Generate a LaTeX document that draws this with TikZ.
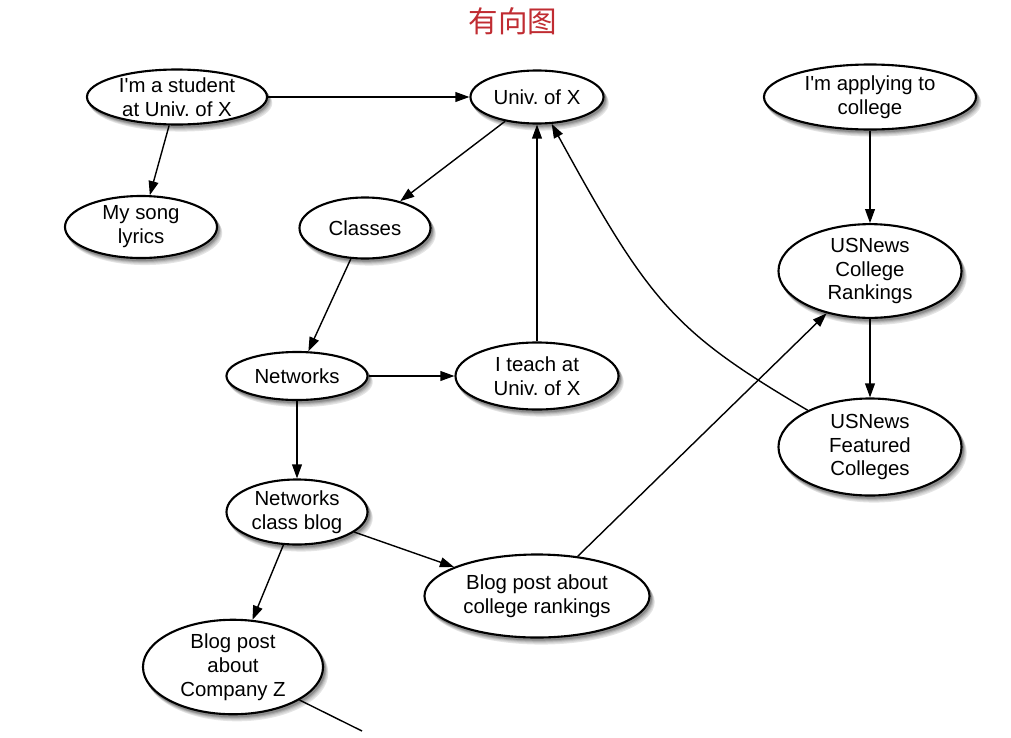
\documentclass[tikz,border=0pt]{standalone}
\usepackage{fontspec}
\setmainfont{Liberation Sans}
\newfontfamily\cjk{Noto Sans CJK SC}
\usepackage{tikz}
\usetikzlibrary{calc,shapes.geometric,backgrounds,arrows.meta,positioning}
\definecolor{titlered}{RGB}{192,44,50}
\frenchspacing

\begin{document}
\begin{tikzpicture}[x=0.025cm, y=-0.025cm,
    page/.style={ellipse, draw=black, line width=1.5pt, fill=white, align=center, inner sep=0pt,
      font=\fontsize{14.5}{17}\selectfont},
    link/.style={line width=1pt, -{Triangle[length=10pt,width=7pt]}}]
    \useasboundingbox (0,0) rectangle (1011,737);
    \node [text=titlered, font=\cjk\fontsize{21}{21}\selectfont] (title) at (513,21) {有向图};
    \node [page, minimum width=4.5cm, minimum height=1.375cm] (stud) at (177,97) {I\textquotesingle m a student\\at Univ. of X};
    \node [page, minimum width=3.325cm, minimum height=1.325cm] (univ) at (537,97) {Univ. of X};
    \node [page, minimum width=3.8cm, minimum height=1.55cm] (song) at (141,227) {My song\\lyrics};
    \node [page, minimum width=3.275cm, minimum height=1.525cm] (classes) at (365,228) {Classes};
    \node [page, minimum width=3.525cm, minimum height=1.2cm] (nets) at (297,376) {Networks};
    \node [page, minimum width=4.075cm, minimum height=1.675cm] (teach) at (537,376) {I teach at\\Univ. of X};
    \node [page, minimum width=3.525cm, minimum height=1.625cm] (blog) at (297,512) {Networks\\class blog};
    \node [page, minimum width=5.625cm, minimum height=2.075cm] (rank) at (537,596) {Blog post about\\college rankings};
    \node [page, minimum width=4.5cm, minimum height=2.25cm] (compz) at (233,667) {Blog post\\about\\Company Z};
    \node [page, minimum width=5.3cm, minimum height=1.625cm] (apply) at (870,97) {I\textquotesingle m applying to\\college};
    \node [page, minimum width=4.575cm, minimum height=2.325cm] (usnr) at (870,271) {USNews\\College\\Rankings};
    \node [page, minimum width=4.575cm, minimum height=2.425cm] (usnf) at (870,447) {USNews\\Featured\\Colleges};
    \coordinate (out) at (362,731);
    \draw [link] (stud) -- (univ);
    \draw [link] (stud) -- (song);
    \draw [link] (univ) -- (classes);
    \draw [link] (classes) -- (nets);
    \draw [link] (nets) -- (teach);
    \draw [link] (teach) -- (univ);
    \draw [link] (nets) -- (blog);
    \draw [link] (blog) -- (rank);
    \draw [link] (blog) -- (compz);
    \draw [link] (rank) -- (usnr);
    \draw [link] (apply) -- (usnr);
    \draw [link] (usnr) -- (usnf);
    \draw [link] (usnf) .. controls (675,332) and (650,304) .. (univ);
    \draw [line width=1pt] (compz) -- (out);
    % soft shadows under the pages
    \begin{pgfonlayer}{background}
      \foreach \pg in {stud,univ,song,classes,nets,teach,blog,rank,compz,apply,usnr,usnf}
        \foreach \d/\o in {6/10, 5/16, 4/24, 3/34, 2/45}
          \fill [black!\o] let \p1=($(\pg.east)-(\pg.west)$), \p2=($(\pg.north)-(\pg.south)$) in
            ($(\pg.center)+(0.7*\d,\d)$) ellipse [x radius=0.5*\x1, y radius=0.5*\y2];
    \end{pgfonlayer}
  \end{tikzpicture}
\end{document}
